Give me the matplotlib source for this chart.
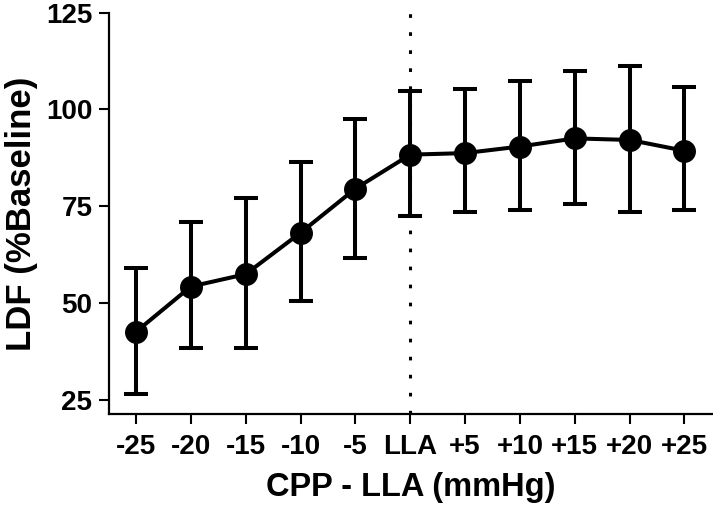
import matplotlib
matplotlib.use("Agg")
import matplotlib.pyplot as plt

categories = ["-25", "-20", "-15", "-10", "-5", "LLA", "+5", "+10", "+15", "+20", "+25"]
ldf_mean = [42.5, 54.2, 57.4, 68.1, 79.5, 88.3, 88.7, 90.4, 92.5, 92.1, 89.3]
err_upper = [58.9, 70.9, 77.1, 86.5, 97.6, 104.8, 105.3, 107.4, 110.0, 111.1, 105.9]
err_lower = [26.3, 38.4, 38.4, 50.5, 61.5, 72.4, 73.6, 74.0, 75.5, 73.5, 74.0]
y_ticks = [25, 50, 75, 100, 125]

plt.rcParams['font.family'] = ['Liberation Sans', 'DejaVu Sans']
plt.rcParams['font.weight'] = 'bold'

fig = plt.figure(figsize=(7.13, 5.07), dpi=100)
ax = fig.add_axes([0.153, 0.183, 0.847, 0.792])

x = list(range(len(categories)))
yerr = [[m - lo for m, lo in zip(ldf_mean, err_lower)],
        [hi - m for m, hi in zip(ldf_mean, err_upper)]]

lla_idx = categories.index("LLA")
ax.axvline(lla_idx, color='black', linestyle=(0, (1.2, 4.7)), linewidth=2.2, zorder=1)

ax.errorbar(x, ldf_mean, yerr=yerr, color='black', linewidth=2.9,
            marker='o', markersize=15.5, elinewidth=2.9, capsize=8.5, capthick=2.9, zorder=3)

ax.set_xlim(-0.49, 10.52)
ax.set_ylim(21.2, 125)
ax.set_yticks(y_ticks)
ax.set_xticks(x)
ax.set_xticklabels(categories)

for s in ['top', 'right']:
    ax.spines[s].set_visible(False)
for s in ['left', 'bottom']:
    ax.spines[s].set_linewidth(1.6)

ax.tick_params(axis='both', which='major', length=7, width=1.5, labelsize=20, pad=5)
ax.tick_params(axis='x', pad=7)

ax.set_ylabel("LDF (%Baseline)", fontsize=25, fontweight='bold', labelpad=6)
ax.set_xlabel("CPP - LLA (mmHg)", fontsize=23.5, fontweight='bold', labelpad=9)

fig.savefig("out.png", dpi=100)
